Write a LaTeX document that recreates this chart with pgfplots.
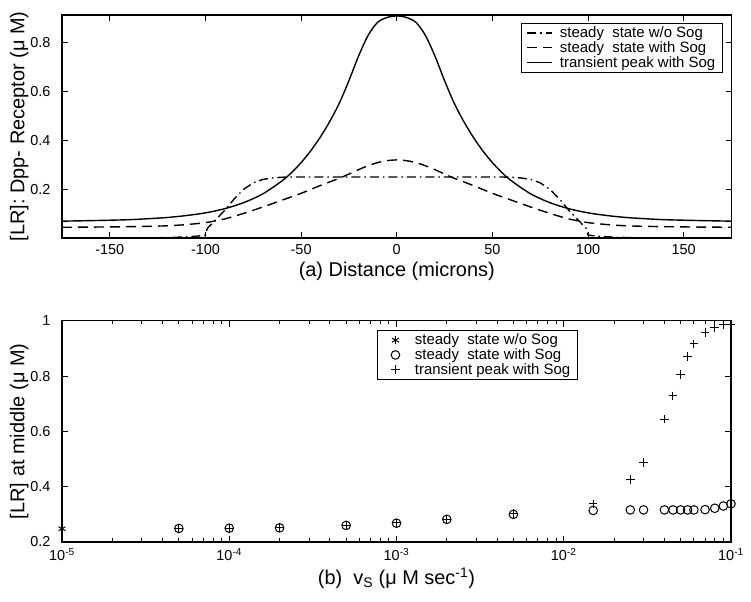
\documentclass[border=0pt]{standalone}
\usepackage{fontspec}
\setmainfont{Liberation Sans}
\usepackage{pgfplots}
\pgfplotsset{compat=1.18}
\pgfplotsset{
  legend image code/.code={\path[draw=none,fill=none] (0bp,0bp) (25bp,0bp);\draw[mark repeat=2,mark phase=2,#1] plot coordinates {(0bp,0bp) (12.5bp,0bp) (25bp,0bp)};},
  every axis/.append style={
    scale only axis,
    axis line style={line width=1.2bp},
    every tick/.style={line width=1bp,black},
    major tick length=6bp, minor tick length=3.5bp,
    tick label style={font=\fontsize{14.5}{17}\selectfont},
    label style={font=\fontsize{20}{24}\selectfont},
    /pgf/number format/assume math mode=true,
    legend cell align=left,
  }
}
\begin{document}
\begin{tikzpicture}
\path[use as bounding box] (0,0) rectangle (751bp,602bp);
% ---------- top panel ----------
\begin{axis}[at={(62bp,364bp)}, anchor=south west, width=669.5bp, height=223bp,
  xmin=-175, xmax=175, ymin=0, ymax=0.914,
  xtick={-150,-100,-50,0,50,100,150}, ytick={0.2,0.4,0.6,0.8},
  xlabel={(a) Distance (microns)},
  ylabel={[LR]: Dpp- Receptor (μ M)},
  xlabel style={at={(axis description cs:0.5,-0.151)}, anchor=center},
  ylabel style={at={(axis description cs:-0.064,0.5)}, anchor=center},
  yticklabel style={xshift=-8bp}, xticklabel style={yshift=-3bp},
  legend style={at={(0.987,0.965)}, anchor=north east, draw=black, line width=1bp,
    font=\fontsize{15}{18}\selectfont, inner xsep=5bp, inner ysep=1.5bp, row sep=-1.5bp,
    /tikz/every odd column/.append style={column sep=5bp}},
]
\addplot[black, line width=1.4bp, dash pattern=on 9bp off 4bp on 1.5bp off 4bp] coordinates {
(-175,-0.02) (-150,-0.01) (-130,0.0) (-115,0.003) (-105,0.007) (-100,0.012) (-99,0.040)
(-95,0.072) (-90,0.113) (-85,0.160) (-80,0.200) (-75,0.226) (-70,0.240) (-65,0.246) (-60,0.249) (-55,0.250)
(0,0.250)
(55,0.250) (60,0.249) (65,0.246) (70,0.240) (75,0.226) (80,0.200) (85,0.160) (90,0.113) (95,0.072)
(99,0.040) (100,0.012) (105,0.007) (115,0.003) (130,0.0) (150,-0.01) (175,-0.02)};
\addlegendentry{steady\ \ state w/o Sog}
\addplot[black, line width=1.4bp, dash pattern=on 10bp off 6bp, smooth, tension=0.5] coordinates {
(-175,0.044) (-155,0.045) (-135,0.047) (-120,0.050) (-110,0.055) (-100,0.063) (-90,0.078) (-80,0.101)
(-70,0.127) (-60,0.155) (-50,0.183) (-40,0.215) (-30,0.245) (-25,0.262) (-20,0.280) (-15,0.296)
(-10,0.309) (-5,0.317) (0,0.320)
(5,0.317) (10,0.309) (15,0.296) (20,0.280) (25,0.262) (30,0.245) (40,0.215) (50,0.183) (60,0.155)
(70,0.127) (80,0.101) (90,0.078) (100,0.063) (110,0.055) (120,0.050) (135,0.047) (155,0.045) (175,0.044)};
\addlegendentry{steady\ \ state with Sog}
\addplot[black, line width=1.4bp, smooth, tension=0.5] coordinates {
(-175,0.069) (-155,0.072) (-140,0.075) (-130,0.079) (-120,0.084) (-110,0.092) (-100,0.103) (-90,0.120)
(-80,0.145) (-70,0.181) (-60,0.234) (-55,0.268) (-50,0.309) (-45,0.357) (-40,0.413) (-35,0.478)
(-30,0.553) (-25,0.645) (-20,0.745) (-15,0.830) (-10,0.884) (-5,0.904) (0,0.910)
(5,0.904) (10,0.884) (15,0.830) (20,0.745) (25,0.645) (30,0.553) (35,0.478) (40,0.413) (45,0.357)
(50,0.309) (55,0.268) (60,0.234) (70,0.181) (80,0.145) (90,0.120) (100,0.103) (110,0.092) (120,0.084)
(130,0.079) (140,0.075) (155,0.072) (175,0.069)};
\addlegendentry{transient peak with Sog}
\end{axis}
% ---------- bottom panel ----------
\begin{axis}[at={(62bp,60bp)}, anchor=south west, width=669bp, height=221.3bp,
  xmode=log, xmin=1e-5, xmax=1e-1, ymin=0.2, ymax=1,
  xtick={1e-5,1e-4,1e-3,1e-2,1e-1},
  xticklabels={10\textsuperscript{-5},10\textsuperscript{-4},10\textsuperscript{-3},10\textsuperscript{-2},10\textsuperscript{-1}},
  minor xtick={2e-5,3e-5,4e-5,5e-5,6e-5,7e-5,8e-5,9e-5,2e-4,3e-4,4e-4,5e-4,6e-4,7e-4,8e-4,9e-4,
    2e-3,3e-3,4e-3,5e-3,6e-3,7e-3,8e-3,9e-3,2e-2,3e-2,4e-2,5e-2,6e-2,7e-2,8e-2,9e-2},
  ytick={0.2,0.4,0.6,0.8,1},
  xlabel={(b)\ \ v\textsubscript{S} (μ M sec\textsuperscript{-1})},
  ylabel={[LR] at middle (μ M)},
  xlabel style={at={(axis description cs:0.5,-0.163)}, anchor=center},
  ylabel style={at={(axis description cs:-0.064,0.5)}, anchor=center},
  yticklabel style={xshift=-8bp}, xticklabel style={yshift=-3bp},
  legend style={at={(0.771,0.958)}, anchor=north east, draw=black, line width=1bp,
    font=\fontsize{15}{18}\selectfont, inner xsep=5bp, inner ysep=1.5bp, row sep=-1.5bp,
    /tikz/every odd column/.append style={column sep=5bp}},
]
\addplot[black, only marks, mark=asterisk, mark size=4bp, mark options={line width=1bp}] coordinates {
(1e-5,0.248)};
\addlegendentry{steady\ \ state w/o Sog}
\addplot[black, only marks, mark=o, mark size=4.3bp, mark options={line width=1bp}] coordinates {
(5e-5,0.249) (1e-4,0.250) (2e-4,0.251) (5e-4,0.260) (1e-3,0.268) (2e-3,0.282) (5e-3,0.300)
(1.5e-2,0.314) (2.5e-2,0.316) (3e-2,0.316) (4e-2,0.316) (4.5e-2,0.316) (5e-2,0.316) (5.5e-2,0.316)
(6e-2,0.316) (7e-2,0.317) (8e-2,0.322) (9e-2,0.330) (1e-1,0.338)};
\addlegendentry{steady\ \ state with Sog}
\addplot[black, only marks, mark=+, mark size=4.3bp, mark options={line width=1bp}] coordinates {
(5e-5,0.250) (1e-4,0.250) (2e-4,0.252) (5e-4,0.261) (1e-3,0.269) (2e-3,0.283) (5e-3,0.302)
(1.5e-2,0.338) (2.5e-2,0.425) (3e-2,0.488) (4e-2,0.644) (4.5e-2,0.728) (5e-2,0.806) (5.5e-2,0.870)
(6e-2,0.916) (7e-2,0.957) (8e-2,0.976) (9e-2,0.985) (1e-1,0.988)};
\addlegendentry{transient peak with Sog}
\end{axis}
\end{tikzpicture}
\end{document}
